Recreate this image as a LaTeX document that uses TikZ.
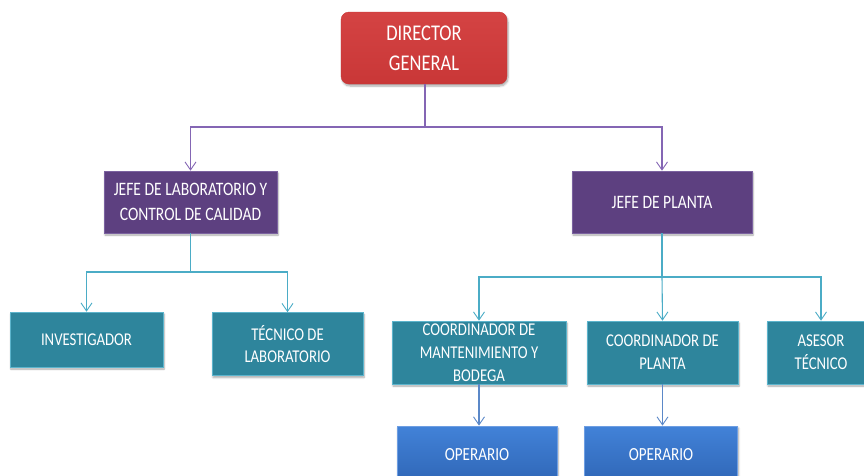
\documentclass[tikz,border=0pt]{standalone}
\usepackage{fontspec}
\setmainfont{Carlito}[FakeStretch=0.82]
\usetikzlibrary{arrows.meta,shadows.blur}

\definecolor{dirred}{HTML}{C93737}
\definecolor{dirredtop}{HTML}{D44343}
\definecolor{jefepurple}{HTML}{5D4080}
\definecolor{jefeedge}{HTML}{7B62A0}
\definecolor{coordteal}{HTML}{2E859C}
\definecolor{tealedge}{HTML}{5CB4CC}
\definecolor{opblue}{HTML}{2F66B6}
\definecolor{opbluetop}{HTML}{4282D8}
\definecolor{opedge}{HTML}{6E9EE2}
\definecolor{linepurple}{HTML}{8466B4}
\definecolor{lineteal}{HTML}{4BACC6}
\definecolor{lineblue}{HTML}{5B88C8}

\tikzset{
  box/.style={inner sep=0pt, align=center, text=white,
    blur shadow={shadow xshift=1pt, shadow yshift=-2pt, shadow blur steps=6, shadow opacity=35}},
  dirbox/.style={box, rounded corners=8pt, top color=dirredtop, bottom color=dirred,
    draw=dirred, font=\fontsize{22.5}{30}\selectfont},
  jefebox/.style={box, fill=jefepurple, draw=jefeedge, line width=0.6pt,
    font=\fontsize{19}{25}\selectfont},
  coordbox/.style={box, fill=coordteal, draw=tealedge, line width=0.6pt,
    font=\fontsize{18}{22.8}\selectfont},
  opbox/.style={box, top color=opbluetop, bottom color=opblue, draw=opedge, line width=0.8pt,
    font=\fontsize{18.5}{24}\selectfont},
  link/.style={line width=1.1pt},
  arrowlink/.style={link, -{Straight Barb[length=8pt, width=11pt, line width=0.9pt]}},
}

\begin{document}
\begin{tikzpicture}[x=1pt, y=-1pt]
\useasboundingbox (0,0) rectangle (864,475);
\clip (0,0) rectangle (864,475);

% top level
\node[dirbox, minimum width=166pt, minimum height=72pt] (dir) at (424,48) {DIRECTOR\\GENERAL};

% second level
\node[jefebox, minimum width=173pt, minimum height=62pt] (lab) at (190.5,202)
  {JEFE DE LABORATORIO Y\\CONTROL DE CALIDAD};
\node[jefebox, minimum width=180pt, minimum height=62pt] (planta) at (662,202)
  {JEFE DE PLANTA};

% third level, laboratory branch
\node[coordbox, minimum width=153pt, minimum height=55pt] (inv) at (86.5,339.5)
  {INVESTIGADOR};
\node[coordbox, minimum width=151pt, minimum height=63pt] (tec) at (287.5,344)
  {TÉCNICO DE\\LABORATORIO};

% third level, plant branch
\node[coordbox, minimum width=174pt, minimum height=63pt] (cmant) at (479,352.5)
  {COORDINADOR DE\\MANTENIMIENTO Y\\BODEGA};
\node[coordbox, minimum width=151pt, minimum height=63pt] (cpl) at (662.5,352.5)
  {COORDINADOR DE\\PLANTA};
\node[coordbox, minimum width=108pt, minimum height=63pt] (ases) at (821,352.5)
  {ASESOR\\TÉCNICO};

% fourth level
\node[opbox, minimum width=160pt, minimum height=58pt] (op1) at (477,455) {OPERARIO};
\node[opbox, minimum width=153pt, minimum height=58pt] (op2) at (661,455) {OPERARIO};

% connectors from the director
\coordinate (j1) at (425,127);
\draw[link, linepurple] (dir.south -| j1) -- (j1);
\draw[arrowlink, linepurple] (j1) -| (lab.north);
\draw[arrowlink, linepurple] (j1) -| (planta.north);

% laboratory branch
\coordinate (j2) at (190.5,272);
\draw[link, lineteal] (lab.south) -- (j2);
\draw[arrowlink, lineteal] (j2) -| (inv.north);
\draw[arrowlink, lineteal] (j2) -| (tec.north);

% plant branch
\coordinate (j3) at (662,277);
\draw[link, lineteal] (planta.south) -- (j3);
\draw[arrowlink, lineteal] (j3) -| (cmant.north);
\draw[arrowlink, lineteal] (j3) -- (cpl.north);
\draw[arrowlink, lineteal] (j3) -| (ases.north);

% operators
\draw[arrowlink, lineblue] (cmant.south) -- (op1.north -| cmant.south);
\draw[arrowlink, lineblue] (cpl.south) -- (op2.north -| cpl.south);
\end{tikzpicture}
\end{document}
